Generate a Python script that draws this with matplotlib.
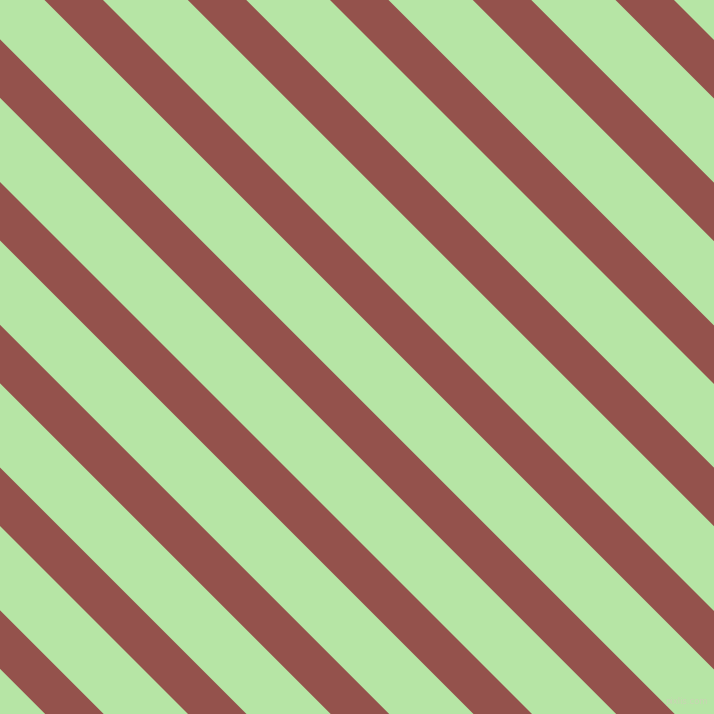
import matplotlib
matplotlib.use("Agg")
import matplotlib.pyplot as plt
import numpy as np

# stripe pattern: offsets c of red bands along x - y = c (pixels)
stripe_starts = [-811.5, -668.8, -526.0, -383.3, -240.5, -97.8,
                 44.5, 187.8, 330.0, 472.8, 615.5]
stripe_width = 58.5
bg_color = "#b6e5a5"
stripe_color = "#94524c"

fig = plt.figure(figsize=(7.14, 7.14), dpi=100)
ax = fig.add_axes([0, 0, 1, 1])
ax.set_facecolor(bg_color)

x = np.linspace(-10, 724, 200)
for c in stripe_starts:
    ax.fill_between(x, x - c - stripe_width, x - c, color=stripe_color, lw=0)

ax.set_xlim(0, 714)
ax.set_ylim(714, 0)
ax.axis("off")
fig.patch.set_facecolor(bg_color)

ax.text(708, 706, "pixlis.com", ha="right", va="bottom", fontsize=6,
        color="#cfcfb8", alpha=0.8)

plt.savefig("out.png", dpi=100, facecolor=bg_color)
